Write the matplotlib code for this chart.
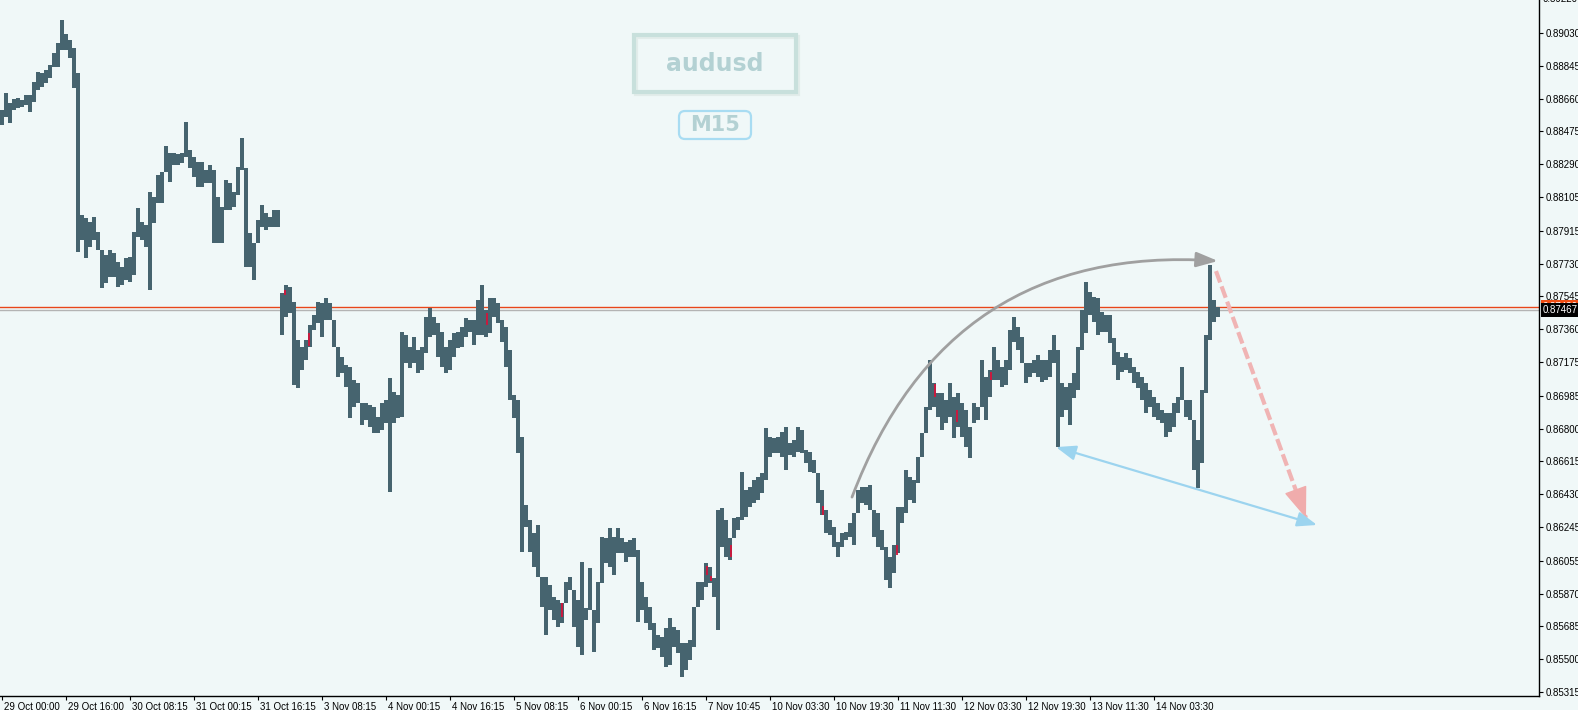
import matplotlib.pyplot as plt
import numpy as np
from matplotlib.patches import Rectangle, FancyBboxPatch
from matplotlib.transforms import ScaledTranslation, IdentityTransform

# AUDUSD M15 chart, summarised as hourly high / low (price in points, 1e-5)
high_pts = [
    88596, 88692, 88635, 88658, 88664, 88652, 88680, 88680, 88754, 88810,
    88805, 88821, 88850, 88917, 88974, 89103, 89024, 88991, 88946, 88805,
    88004, 87987, 87965, 87993, 87909, 87807, 87779, 87807, 87790, 87740,
    87712, 87762, 87768, 87909, 88044, 87965, 87948, 88134, 88106, 88230,
    88247, 88393, 88354, 88354, 88348, 88354, 88528, 88371, 88331, 88303,
    88303, 88258, 88286, 88258, 88106, 88050, 88201, 88184, 88134, 88275,
    88438, 88269, 87903, 87846, 87976, 88061, 88015, 87993, 88032, 88032,
    87564, 87610, 87599, 87514, 87300, 87261, 87300, 87384, 87441, 87514,
    87508, 87536, 87508, 87412, 87261, 87204, 87159, 87148, 87074, 87057,
    86944, 86944, 86933, 86922, 86865, 86944, 86961, 87085, 87007, 86990,
    87345, 87328, 87261, 87317, 87243, 87261, 87430, 87480, 87430, 87395,
    87345, 87261, 87300, 87339, 87345, 87373, 87424, 87412, 87412, 87525,
    87610, 87469, 87536, 87536, 87508, 87412, 87373, 87243, 86990, 86961,
    86753, 86370, 86285, 86212, 86257, 85964, 85964, 85919, 85851, 85834,
    85817, 85936, 85964, 85890, 85834, 86048, 85789, 86014, 85778, 85936,
    86189, 86184, 86240, 86189, 86240, 86184, 86161, 86172, 86184, 86116,
    85936, 85851, 85795, 85704, 85637, 85625, 85676, 85732, 85682, 85665,
    85591, 85591, 85608, 85795, 85936, 85936, 86042, 86020, 85958, 86341,
    86353, 86285, 86184, 86296, 86302, 86556, 86454, 86471, 86510, 86527,
    86550, 86803, 86753, 86747, 86753, 86781, 86809, 86719, 86736, 86809,
    86792, 86679, 86668, 86623, 86550, 86454, 86341, 86285, 86245, 86161,
    86212, 86218, 86268, 86324, 86454, 86471, 86471, 86482, 86341, 86324,
    86229, 86133, 86076, 86144, 86358, 86358, 86567, 86527, 86510, 86640,
    86775, 86922, 87187, 87057, 87001, 87001, 86961, 87057, 86978, 87001,
    86944, 86905, 86809, 86944, 86922, 87187, 87091, 87130, 87261, 87187,
    87148, 87187, 87356, 87430, 87373, 87317, 87170, 87170, 87187, 87215,
    87187, 87187, 87243, 87328, 87243, 87057, 87035, 87057, 87113, 87261,
    87469, 87627, 87570, 87542, 87536, 87458, 87441, 87441, 87311, 87232,
    87204, 87226, 87198, 87148, 87119, 87091, 87057, 87018, 86978, 86944,
    86905, 86888, 86888, 86944, 86978, 87148, 86961, 86961, 86848, 86736,
    87018, 87328, 87723, 87525, 87486,
]
low_pts = [
    88512, 88557, 88523, 88596, 88607, 88613, 88624, 88585, 88641, 88709,
    88726, 88748, 88776, 88839, 88839, 88934, 88934, 88889, 88720, 87796,
    87863, 87762, 87824, 87863, 87807, 87593, 87621, 87655, 87655, 87599,
    87610, 87638, 87627, 87666, 87880, 87863, 87824, 87581, 87959, 88072,
    88072, 88247, 88190, 88286, 88286, 88297, 88331, 88269, 88218, 88162,
    88162, 88184, 88184, 87846, 87846, 87846, 88032, 88032, 88050, 88117,
    88258, 87712, 87712, 87638, 87846, 87937, 87920, 87937, 87937, 87937,
    87328, 87430, 87452, 87046, 87029, 87130, 87187, 87261, 87356, 87395,
    87317, 87412, 87412, 87261, 87091, 87113, 87035, 86860, 86922, 86944,
    86820, 86848, 86809, 86775, 86775, 86792, 86831, 86443, 86831, 86860,
    86866, 87170, 87142, 87170, 87113, 87130, 87226, 87317, 87328, 87204,
    87148, 87113, 87130, 87204, 87255, 87261, 87317, 87345, 87272, 87328,
    87328, 87317, 87339, 87430, 87395, 87289, 87148, 86961, 86860, 86662,
    86105, 86245, 86105, 86020, 85964, 85795, 85637, 85778, 85721, 85682,
    85704, 85817, 85890, 85682, 85569, 85524, 85721, 85778, 85541, 85704,
    85930, 86042, 86020, 85975, 86099, 86099, 86048, 86076, 86076, 85710,
    85778, 85704, 85665, 85552, 85563, 85513, 85456, 85468, 85569, 85535,
    85400, 85439, 85496, 85569, 85795, 85834, 85907, 85930, 85851, 85665,
    86133, 86076, 86059, 86184, 86229, 86285, 86302, 86358, 86381, 86398,
    86437, 86510, 86640, 86662, 86662, 86640, 86567, 86651, 86640, 86668,
    86662, 86606, 86556, 86550, 86381, 86313, 86212, 86201, 86133, 86076,
    86133, 86172, 86189, 86144, 86324, 86381, 86370, 86341, 86189, 86133,
    86116, 85947, 85902, 85986, 86099, 86268, 86324, 86398, 86381, 86493,
    86640, 86775, 86905, 86922, 86866, 86792, 86831, 86866, 86747, 86809,
    86753, 86696, 86634, 86831, 86848, 86922, 86848, 86978, 87074, 87074,
    87035, 87046, 87130, 87289, 87243, 87170, 87057, 87091, 87113, 87091,
    87063, 87074, 87091, 87170, 86696, 86866, 86905, 86820, 86973, 87018,
    87243, 87339, 87441, 87401, 87328, 87345, 87345, 87283, 87159, 87074,
    87119, 87130, 87113, 87057, 87029, 86961, 86888, 86922, 86866, 86848,
    86831, 86753, 86781, 86809, 86888, 86961, 86866, 86848, 86567, 86465,
    86606, 87001, 87300, 87401, 87430,
]

# single M15 bars drawn in red on the chart (bar index, low, high)
red_bar_idx = [285, 309, 487, 562, 707, 711, 731, 823, 897, 935, 957, 991]
red_bar_low = [87553, 87266, 87384, 85738, 85975, 85941, 86076, 86313, 86088, 86978, 86837, 87074]
red_bar_high = [87581, 87339, 87452, 85817, 86025, 85969, 86144, 86364, 86144, 87051, 86905, 87119]

time_labels = ['29 Oct 00:00', '29 Oct 16:00', '30 Oct 08:15', '31 Oct 00:15', '31 Oct 16:15',
               '3 Nov 08:15', '4 Nov 00:15', '4 Nov 16:15', '5 Nov 08:15', '6 Nov 00:15',
               '6 Nov 16:15', '7 Nov 10:45', '10 Nov 03:30', '10 Nov 19:30', '11 Nov 11:30',
               '12 Nov 03:30', '12 Nov 19:30', '13 Nov 11:30', '14 Nov 03:30']
price_labels = ['0.89030', '0.88845', '0.88660', '0.88475', '0.88290', '0.88105', '0.87915',
                '0.87730', '0.87545', '0.87360', '0.87175', '0.86985', '0.86800', '0.86615',
                '0.86430', '0.86245', '0.86055', '0.85870', '0.85685', '0.85500', '0.85315']
top_label = '0.89220'
bid = 0.87467
ask = 0.87486

# drawing objects (bar index, price)
curve_arrow = [(852, 0.86414), (1218, 0.87745)]
target_arrow = [(1216, 0.87688), (1306, 0.86296)]
range_arrow = [(1056, 0.86696), (1317, 0.86257)]

bg = '#f0f8f8'
bar_color = '#46646f'
plt.rcParams['font.family'] = ['Liberation Sans', 'DejaVu Sans']

W, H = 1578, 710
fig = plt.figure(figsize=(W / 100, H / 100), dpi=100, facecolor=bg)
ax = fig.add_axes([0, 14 / H, 1539 / W, 696 / H], facecolor=bg)

high = np.array(high_pts) / 1e5
low = np.array(low_pts) / 1e5
x = np.arange(len(high)) * 4 + 2   # 4 M15 bars per hourly column

ax.axhline(ask, color='#e8461a', lw=1.0, zorder=1)
ax.axhline(bid, color='#b4b4b4', lw=1.0, zorder=1)
ax.vlines(x, low, high, color=bar_color, lw=2.88, zorder=2)
ax.vlines(red_bar_idx, np.array(red_bar_low) / 1e5, np.array(red_bar_high) / 1e5,
          color='#d4143a', lw=1.3, zorder=3)

ax.set_xlim(0, 1539)
ax.set_ylim(0.85293, 0.89216)

for s in ['top', 'left']:
    ax.spines[s].set_visible(False)
for s in ['right', 'bottom']:
    ax.spines[s].set_color('black')
    ax.spines[s].set_linewidth(1.0)

ax.yaxis.tick_right()
ax.set_yticks([float(v) for v in price_labels], price_labels)
ax.tick_params(axis='y', length=3, width=0.8, pad=2, labelsize=7, colors='black')
ax.set_xticks([2 + 64 * i for i in range(len(time_labels))], time_labels)
ax.tick_params(axis='x', length=3, width=0.8, pad=1, labelsize=7, colors='black')
offset = ScaledTranslation(2 / 100, 0, fig.dpi_scale_trans)
for lbl in ax.get_xticklabels():
    lbl.set_ha('left')
    lbl.set_transform(lbl.get_transform() + offset)

ytrans = ax.get_yaxis_transform() + ScaledTranslation(4 / 100, 0, fig.dpi_scale_trans)
ax.text(1.0, float(top_label), top_label, transform=ytrans, ha='left', va='center',
        fontsize=7, clip_on=False)
ax.text(1.0, ask, f'{ask:.5f}', transform=ytrans, ha='left', va='center', fontsize=7,
        color='white', clip_on=False,
        bbox=dict(boxstyle='square,pad=0.2', fc='#f04e14', ec='none'))
ax.text(1.0, bid, f'{bid:.5f}', transform=ytrans, ha='left', va='center', fontsize=7,
        color='white', clip_on=False,
        bbox=dict(boxstyle='square,pad=0.2', fc='black', ec='none'))

# symbol / timeframe watermark
fig.add_artist(Rectangle((636, H - 94), 162, 57, transform=IdentityTransform(),
                         fill=False, ec='#e2ecea', lw=3))
fig.add_artist(Rectangle((634, H - 92), 162, 57, transform=IdentityTransform(),
                         fill=False, ec='#c8e0dc', lw=3))
fig.text(715 / W, 1 - 64 / H, 'audusd', ha='center', va='center', fontsize=17,
         fontweight='bold', color='#b3d1d3', family='DejaVu Sans')
fig.add_artist(FancyBboxPatch((679, H - 139), 72, 28, transform=IdentityTransform(),
                              boxstyle='round,pad=0,rounding_size=6', fill=False,
                              ec='#a8dcf2', lw=1.6))
fig.text(715 / W, 1 - 125 / H, 'M15', ha='center', va='center', fontsize=15,
         fontweight='bold', color='#b3d1d3', family='DejaVu Sans')

# analysis arrows
ax.annotate('', xy=curve_arrow[1], xytext=curve_arrow[0],
            arrowprops=dict(arrowstyle='-|>,head_length=1.3,head_width=0.45',
                            color='#a0a0a0', lw=2.0, shrinkA=0, shrinkB=0,
                            connectionstyle='arc3,rad=-0.37'), zorder=4)
(tx0, ty0), (tx1, ty1) = target_arrow
ax.plot([tx0, tx1], [ty0, ty1], color='#f0b4b4', lw=3.0, dashes=(2.9, 1.0),
        solid_capstyle='butt', zorder=4)
ax.annotate('', xy=(tx1, ty1), xytext=(tx0 + (tx1 - tx0) * 0.89, ty0 + (ty1 - ty0) * 0.89),
            arrowprops=dict(arrowstyle='-|>,head_length=2.0,head_width=0.75',
                            color='#f0acac', lw=1.0, shrinkA=0, shrinkB=0), zorder=5)
ax.annotate('', xy=range_arrow[1], xytext=range_arrow[0],
            arrowprops=dict(arrowstyle='<|-|>,head_length=1.2,head_width=0.45',
                            color='#9cd4ef', lw=1.6, shrinkA=0, shrinkB=0), zorder=6)

fig.savefig('out.png', dpi=100, facecolor=bg)
